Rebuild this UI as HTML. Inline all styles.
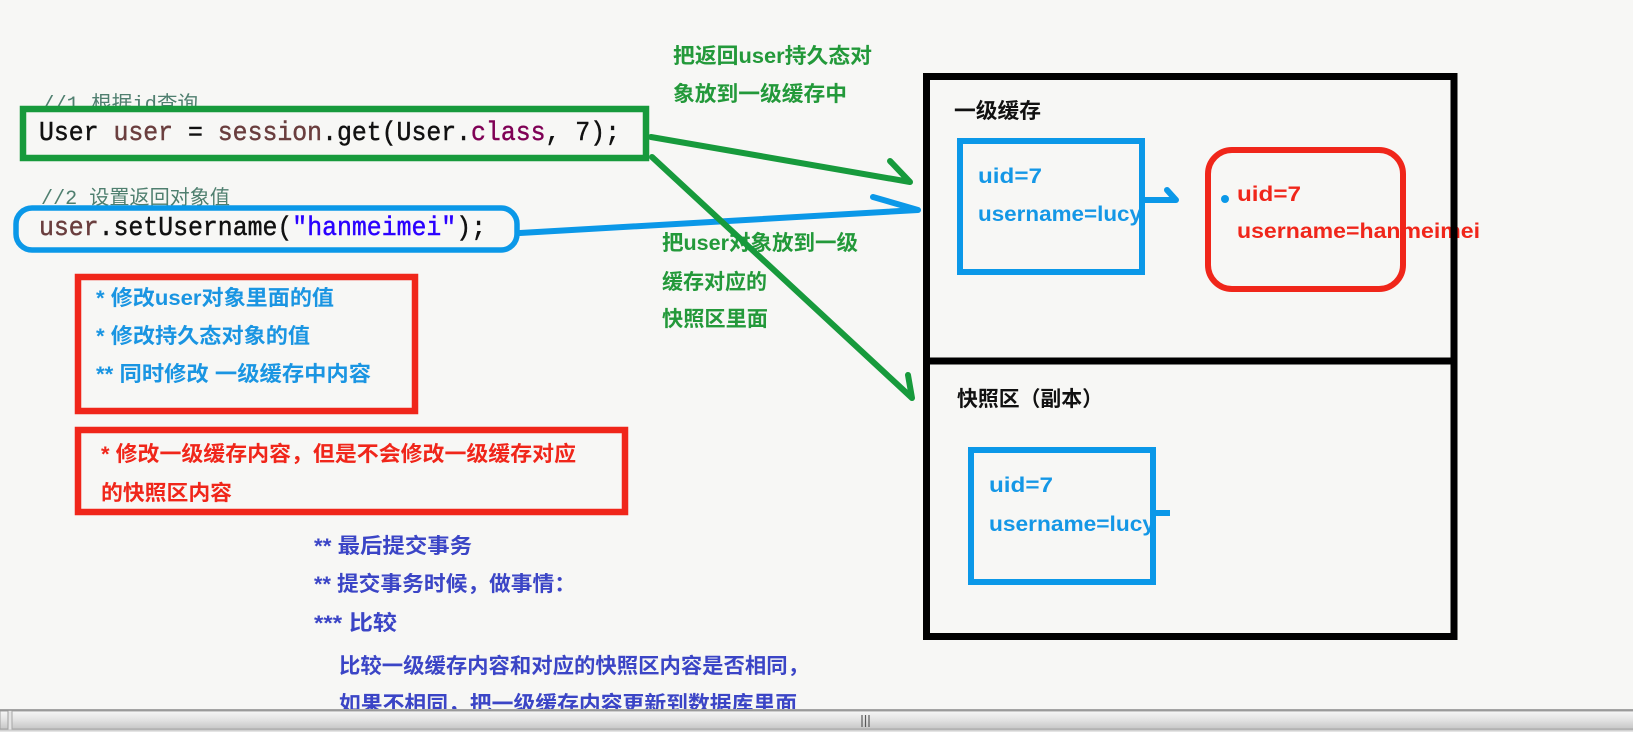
<!DOCTYPE html>
<html>
<head>
<meta charset="utf-8">
<style>
  html, body { margin: 0; padding: 0; background: #f7f7f5; }
  svg { display: block; }
  .cjk { font-family: "Liberation Sans", "Noto Sans CJK SC", sans-serif; font-weight: bold; font-size: 21px; }
  .mono { font-family: "Liberation Mono", "Noto Sans CJK SC", monospace; }
</style>
</head>
<body>
<svg width="1633" height="732" viewBox="0 0 1633 732" xmlns="http://www.w3.org/2000/svg">
  <defs>
    <linearGradient id="sb" x1="0" y1="0" x2="0" y2="1">
      <stop offset="0" stop-color="#f6f6f6"/>
      <stop offset="0.5" stop-color="#e2e2e2"/>
      <stop offset="1" stop-color="#c6c6c6"/>
    </linearGradient>
  </defs>
  <rect x="0" y="0" width="1633" height="732" fill="#f7f7f5"/>

  <!-- Code comments -->
  <text class="mono" x="42" y="110" font-size="20" fill="#4f7f6f" textLength="156" lengthAdjust="spacingAndGlyphs">//1 根据id查询</text>
  <!-- Green box around code line 1 -->
  <rect x="23" y="109" width="623" height="49" fill="#f7f7f5" stroke="#179a3c" stroke-width="6.5"/>
  <text class="mono" x="39" y="140" font-size="26.5" stroke-width="0.45" textLength="581" lengthAdjust="spacingAndGlyphs"><tspan fill="#111" stroke="#111">User </tspan><tspan fill="#6a3e3e" stroke="#6a3e3e">user</tspan><tspan fill="#111" stroke="#111"> = </tspan><tspan fill="#6a3e3e" stroke="#6a3e3e">session</tspan><tspan fill="#111" stroke="#111">.get(User.</tspan><tspan fill="#7f0055" stroke="#7f0055">class</tspan><tspan fill="#111" stroke="#111">, 7);</tspan></text>

  <text class="mono" x="41" y="204" font-size="20" fill="#4f7f6f" textLength="189" lengthAdjust="spacingAndGlyphs">//2 设置返回对象值</text>
  <!-- Blue rounded box around code line 2 -->
  <rect x="16" y="208" width="501" height="42" rx="16" ry="16" fill="#f7f7f5" stroke="#0b98e8" stroke-width="5.5"/>
  <text class="mono" x="39" y="235" font-size="26.5" stroke-width="0.45" textLength="447" lengthAdjust="spacingAndGlyphs"><tspan fill="#6a3e3e" stroke="#6a3e3e">user</tspan><tspan fill="#111" stroke="#111">.setUsername(</tspan><tspan fill="#2a00ff" stroke="#2a00ff">"hanmeimei"</tspan><tspan fill="#111" stroke="#111">);</tspan></text>

  <!-- Green annotation texts -->
  <g class="cjk" fill="#23993a">
    <text x="673" y="63" textLength="199" lengthAdjust="spacingAndGlyphs">把返回user持久态对</text>
    <text x="673" y="101" textLength="174" lengthAdjust="spacingAndGlyphs">象放到一级缓存中</text>
    <text x="662" y="250" textLength="196" lengthAdjust="spacingAndGlyphs">把user对象放到一级</text>
    <text x="662" y="289" textLength="105" lengthAdjust="spacingAndGlyphs">缓存对应的</text>
    <text x="662" y="326" textLength="106" lengthAdjust="spacingAndGlyphs">快照区里面</text>
  </g>

  <!-- Blue arrow -->
  <path d="M520 233 L918 210 M873 197 L918 210" stroke="#0b98e8" stroke-width="6" stroke-linecap="round" stroke-linejoin="round" fill="none"/>
  <!-- Green arrows -->
  <path d="M651 137 L910 182 M890 161 L910 182" stroke="#179a3c" stroke-width="6" stroke-linecap="round" stroke-linejoin="round" fill="none"/>
  <path d="M652 157 L912 398 M908 375 L912 398" stroke="#179a3c" stroke-width="6" stroke-linecap="round" stroke-linejoin="round" fill="none"/>

  <!-- Left red box 1 -->
  <g class="cjk" fill="#1a95e2">
    <text x="96" y="305" textLength="238" lengthAdjust="spacingAndGlyphs">* 修改user对象里面的值</text>
    <text x="96" y="343" textLength="214" lengthAdjust="spacingAndGlyphs">* 修改持久态对象的值</text>
    <text x="96" y="381" textLength="275" lengthAdjust="spacingAndGlyphs">** 同时修改 一级缓存中内容</text>
  </g>
  <rect x="78" y="277" width="337" height="134" fill="none" stroke="#f0261a" stroke-width="6.5"/>

  <!-- Left red box 2 -->
  <g class="cjk" fill="#f0261a">
    <text x="101" y="461" textLength="475" lengthAdjust="spacingAndGlyphs">* 修改一级缓存内容，但是不会修改一级缓存对应</text>
    <text x="101" y="500" textLength="131" lengthAdjust="spacingAndGlyphs">的快照区内容</text>
  </g>
  <rect x="78" y="430" width="547" height="82" fill="none" stroke="#f0261a" stroke-width="6.5"/>

  <!-- Bottom indigo text -->
  <g class="cjk" fill="#3b45c6">
    <text x="314" y="553" textLength="158" lengthAdjust="spacingAndGlyphs">** 最后提交事务</text>
    <text x="314" y="591" textLength="262" lengthAdjust="spacingAndGlyphs">** 提交事务时候，做事情：</text>
    <text x="314" y="630" textLength="83" lengthAdjust="spacingAndGlyphs">*** 比较</text>
    <text x="339" y="673" textLength="470" lengthAdjust="spacingAndGlyphs">比较一级缓存内容和对应的快照区内容是否相同，</text>
    <text x="339" y="711" textLength="458" lengthAdjust="spacingAndGlyphs">如果不相同，把一级缓存内容更新到数据库里面</text>
  </g>

  <!-- Right: texts -->
  <g class="cjk" fill="#111">
    <text x="954" y="118" textLength="87" lengthAdjust="spacingAndGlyphs">一级缓存</text>
    <text x="957" y="406" textLength="146" lengthAdjust="spacingAndGlyphs">快照区（副本）</text>
  </g>
  <g class="cjk" fill="#1497e6">
    <text x="978" y="183" textLength="64" lengthAdjust="spacingAndGlyphs">uid=7</text>
    <text x="978" y="221" textLength="164" lengthAdjust="spacingAndGlyphs">username=lucy</text>
    <text x="989" y="492" textLength="64" lengthAdjust="spacingAndGlyphs">uid=7</text>
    <text x="989" y="531" textLength="166" lengthAdjust="spacingAndGlyphs">username=lucy</text>
  </g>
  <g class="cjk" fill="#f0261a">
    <text x="1237" y="201" textLength="64" lengthAdjust="spacingAndGlyphs">uid=7</text>
    <text x="1237" y="238" textLength="243" lengthAdjust="spacingAndGlyphs">username=hanmeimei</text>
  </g>

  <!-- Blue rects -->
  <rect x="960" y="141" width="182" height="131" fill="none" stroke="#0b98e8" stroke-width="6"/>
  <rect x="971" y="450" width="182" height="132" fill="none" stroke="#0b98e8" stroke-width="6"/>
  <!-- Blue small connector -->
  <path d="M1145 200 L1176 200 L1167 190" stroke="#0b98e8" stroke-width="6" stroke-linecap="round" stroke-linejoin="round" fill="none"/>
  <path d="M1153 513 L1170 513" stroke="#0b98e8" stroke-width="6" fill="none"/>
  <circle cx="1225" cy="199" r="4" fill="#0b98e8"/>

  <!-- Red rounded rect -->
  <rect x="1208" y="150" width="195" height="139" rx="24" ry="24" fill="none" stroke="#f0261a" stroke-width="6"/>

  <!-- Black container -->
  <rect x="926.5" y="76.5" width="527.5" height="560" fill="none" stroke="#000" stroke-width="7"/>
  <line x1="926" y1="361" x2="1454" y2="361" stroke="#000" stroke-width="7"/>

  <!-- Scrollbar -->
  <rect x="0" y="709" width="1633" height="23" fill="#e4e4e4"/>
  <line x1="0" y1="710" x2="1633" y2="710" stroke="#8e8e8e" stroke-width="1.5"/>
  <rect x="0" y="711" width="8" height="18" fill="url(#sb)" stroke="#a0a0a0" stroke-width="1"/>
  <rect x="12" y="711" width="1622" height="18" fill="url(#sb)" stroke="#a6a6a6" stroke-width="1"/>
  <line x1="0" y1="730" x2="1633" y2="730" stroke="#c0c0c0" stroke-width="1"/>
  <g stroke="#5a5a5a" stroke-width="1.2">
    <line x1="862" y1="715" x2="862" y2="727"/>
    <line x1="865.5" y1="715" x2="865.5" y2="727"/>
    <line x1="869" y1="715" x2="869" y2="727"/>
  </g>
</svg>
</body>
</html>
